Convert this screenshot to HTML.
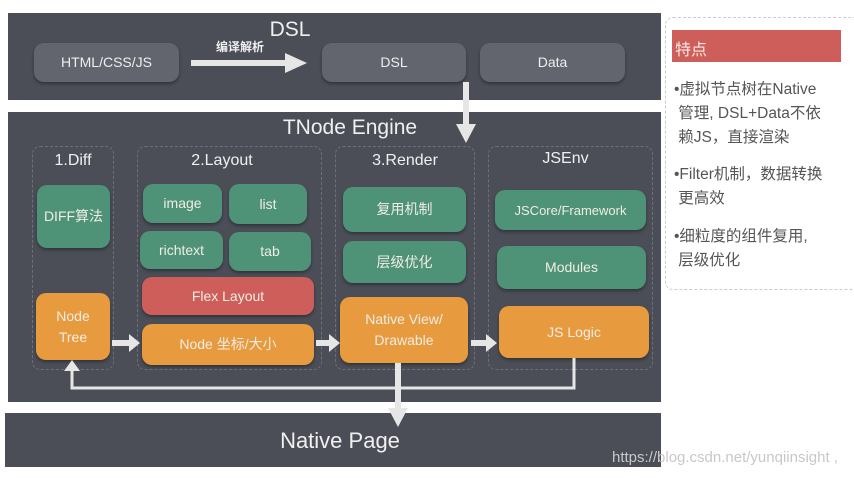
<!DOCTYPE html>
<html><head><meta charset="utf-8"><style>
body{margin:0;width:854px;height:478px;background:#fff;overflow:hidden;position:relative;font-family:"Liberation Sans","Noto Sans CJK SC",sans-serif}
.a{position:absolute;box-sizing:border-box}
.p{background:#4b4e57}
.b{display:flex;align-items:center;justify-content:center;text-align:center;color:#f0ede4;font-size:14px;border-radius:10px;box-shadow:0 2px 3px rgba(0,0,0,.35);line-height:21px}
.g{background:#4e9277}.o{background:#e89a3f}.r{background:#cd5e5a}.k{background:#62656d;color:#eee}
.c{border:1px dashed #6c7079;border-radius:8px}
.t{color:#f0f0f0;text-align:center}
.s{color:#555;font-size:15.5px;line-height:24px}
</style></head><body>
<div class="a p" style="left:8px;top:13px;width:653px;height:87px"></div>
<div class="a t" style="left:250px;top:18px;width:80px;font-size:21px">DSL</div>
<div class="a b k" style="left:34px;top:43px;width:145px;height:39px">HTML/CSS/JS</div>
<div class="a t" style="left:205px;top:38px;width:70px;font-size:12px;font-weight:bold">编译解析</div>
<div class="a b k" style="left:322px;top:43px;width:144px;height:39px">DSL</div>
<div class="a b k" style="left:480px;top:43px;width:145px;height:39px">Data</div>

<div class="a p" style="left:8px;top:112px;width:653px;height:290px"></div>
<div class="a t" style="left:250px;top:116px;width:200px;font-size:21px">TNode Engine</div>
<div class="a c" style="left:32px;top:146px;width:82px;height:224px"></div>
<div class="a c" style="left:137px;top:146px;width:185px;height:224px"></div>
<div class="a c" style="left:335px;top:146px;width:140px;height:224px"></div>
<div class="a c" style="left:488px;top:146px;width:165px;height:224px"></div>
<div class="a t" style="left:32px;top:152px;width:82px;font-size:16px">1.Diff</div>
<div class="a t" style="left:137px;top:152px;width:170px;font-size:16px">2.Layout</div>
<div class="a t" style="left:335px;top:152px;width:140px;font-size:16px">3.Render</div>
<div class="a t" style="left:488px;top:150px;width:155px;font-size:16px">JSEnv</div>

<div class="a b g" style="left:37px;top:185px;width:73px;height:63px">DIFF算法</div>
<div class="a b o" style="left:36px;top:293px;width:74px;height:67px">Node<br>Tree</div>
<div class="a b g" style="left:143px;top:184px;width:79px;height:39px">image</div>
<div class="a b g" style="left:229px;top:184px;width:78px;height:40px">list</div>
<div class="a b g" style="left:140px;top:231px;width:83px;height:38px">richtext</div>
<div class="a b g" style="left:229px;top:232px;width:82px;height:39px">tab</div>
<div class="a b r" style="left:142px;top:277px;width:172px;height:38px">Flex Layout</div>
<div class="a b o" style="left:142px;top:324px;width:172px;height:41px">Node 坐标/大小</div>
<div class="a b g" style="left:343px;top:187px;width:123px;height:45px">复用机制</div>
<div class="a b g" style="left:343px;top:241px;width:123px;height:42px">层级优化</div>
<div class="a b o" style="left:340px;top:297px;width:128px;height:66px">Native View/<br>Drawable</div>
<div class="a b g" style="left:495px;top:190px;width:151px;height:40px;font-size:13px">JSCore/Framework</div>
<div class="a b g" style="left:497px;top:246px;width:149px;height:43px">Modules</div>
<div class="a b o" style="left:499px;top:306px;width:150px;height:52px">JS Logic</div>

<div class="a p" style="left:5px;top:413px;width:656px;height:54px"></div>
<div class="a t" style="left:240px;top:428px;width:200px;font-size:22px">Native Page</div>

<svg class="a" style="left:0;top:0" width="854" height="478">
<g fill="#e6e6e6" stroke="none">
<rect x="191" y="60" width="96" height="6"/><polygon points="285,53 307,63 285,73"/>
<rect x="463" y="82" width="6" height="44"/><polygon points="456,124 476,124 466,143"/>
<rect x="112" y="340" width="18" height="6"/><polygon points="129,334 140,343 129,352"/>
<rect x="316" y="340" width="14" height="6"/><polygon points="329,334 340,343 329,352"/>
<rect x="471" y="340" width="16" height="6"/><polygon points="486,334 497,343 486,352"/>
<rect x="395" y="363" width="6" height="50"/><polygon points="388,408 408,408 398,427"/>
<polygon points="64,371 80,371 72,360"/>
</g>
<polyline points="574,358 574,388 72,388 72,369" fill="none" stroke="#e6e6e6" stroke-width="3"/>
</svg>

<div class="a" style="left:665px;top:17px;width:195px;height:273px;border:1px dashed #ccc;border-radius:8px"></div>
<div class="a" style="left:672px;top:30px;width:169px;height:32px;background:#cd5e5a;color:#fbe9e7;font-size:16px;padding:6px 0 0 3px">特点</div>
<div class="a s" style="left:674px;top:78px;width:178px">•虚拟节点树在Native<br>&nbsp;管理, DSL+Data不依<br>&nbsp;赖JS，直接渲染</div>
<div class="a s" style="left:674px;top:163px;width:178px">•Filter机制，数据转换<br>&nbsp;更高效</div>
<div class="a s" style="left:674px;top:225px;width:178px">•细粒度的组件复用,<br>&nbsp;层级优化</div>
<div class="a" style="left:612px;top:449px;color:#c8c8c8;font-size:15px;white-space:nowrap">https://blog.csdn.net/yunqiinsight ,</div>
</body></html>
